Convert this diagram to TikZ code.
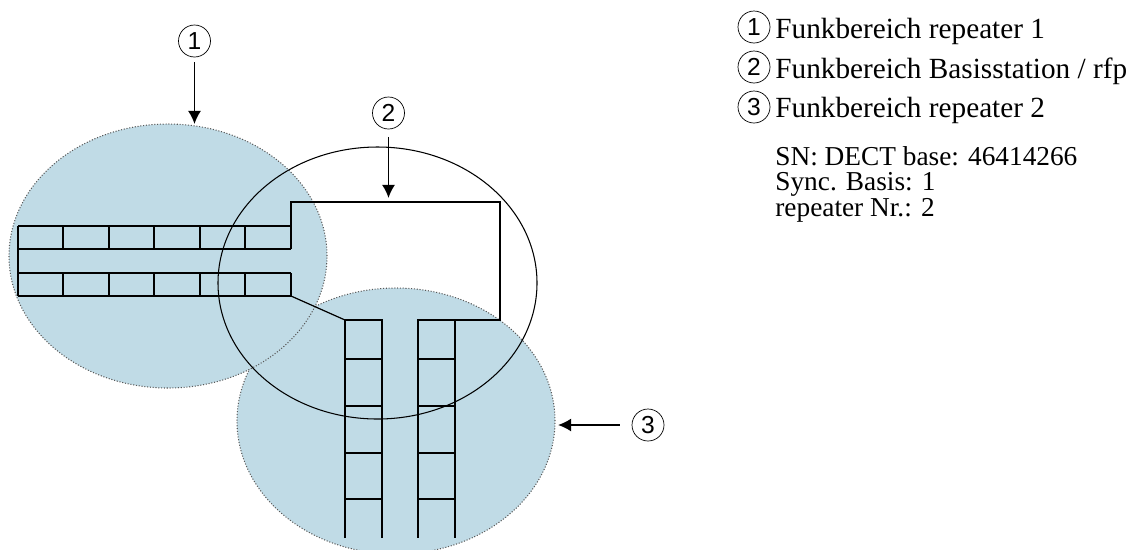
\documentclass[tikz,border=0pt]{standalone}
\usepackage{fontspec}
\setmainfont{Liberation Serif}
\setsansfont{Liberation Sans}
\usetikzlibrary{arrows.meta}
\definecolor{areablue}{RGB}{192,219,230}
\tikzset{
  numcircle/.style={draw,circle,inner sep=0pt,minimum size=0.64cm,outer sep=3pt,font=\sffamily\fontsize{14}{14}\selectfont},
  legendtext/.style={anchor=base west,inner sep=0pt,font=\fontsize{16.65}{16.65}\selectfont},
  infotext/.style={anchor=base west,inner sep=0pt,font=\fontsize{15.55}{15.55}\selectfont},
  wall/.style={line width=1pt},
  area/.style={fill=areablue,draw=black!65,line width=0.6pt,densely dotted},
  arrowline/.style={-{Latex[length=7.5pt,width=7.5pt]},line width=1pt}
}
\begin{document}
\begin{tikzpicture}[x=0.02cm,y=0.02cm]
\useasboundingbox (0,-549) rectangle (1132,0);
\clip (0,-549) rectangle (1132,0);
\draw [area] (396,-421) ellipse (159 and 133);
\draw [area] (168,-256) ellipse (159 and 132);
\draw [black,line width=0.6pt] (377.5,-283) ellipse (159.5 and 136);
% upper wing
\draw [wall] (291,-249) -- (291,-202) -- (500,-202) -- (500,-320) -- (418,-320) -- (418,-538);
\draw [wall] (18,-226) -- (291,-226);
\draw [wall] (18,-249) -- (291,-249);
\draw [wall] (18,-273) -- (291,-273);
\draw [wall] (18,-296) -- (291,-296);
\draw [wall] (18,-226) -- (18,-296);
\draw [wall] (291,-273) -- (291,-296);
\foreach \x in {63,109,154,200,245} {
  \draw [wall] (\x,-226) -- (\x,-249);
  \draw [wall] (\x,-273) -- (\x,-296);
}
% link and towers
\draw [black,line width=0.7pt] (291,-296) -- (345,-320);
\draw [wall] (345,-538) -- (345,-320) -- (382,-320) -- (382,-538);
\draw [wall] (455,-320) -- (455,-538);
\foreach \y in {359,406,453,499} {
  \draw [wall] (345,-\y) -- (382,-\y);
  \draw [wall] (418,-\y) -- (455,-\y);
}
% callouts
\node [numcircle] (c1) at (194.5,-41) {1};
\node [numcircle] (c2) at (388.5,-113) {2};
\node [numcircle] (c3) at (648,-425) {3};
\coordinate (t1) at (194.5,-124);
\coordinate (t2) at (388.5,-198);
\coordinate (t3) at (558,-425);
\draw [arrowline] (c1) -- (t1);
\draw [arrowline,shorten <=1.5pt] (c2) -- (t2);
\draw [arrowline,shorten <=4pt] (c3) -- (t3);
% legend
\node [numcircle] (k1) at (754,-27) {1};
\node [numcircle] (k2) at (754,-67) {2};
\node [numcircle] (k3) at (754,-107) {3};
\node [legendtext] (l1) at (775,-38) {Funkbereich repeater 1};
\node [legendtext] (l2) at (775,-78) {Funkbereich Basisstation / rfp};
\node [legendtext] (l3) at (775,-117.5) {Funkbereich repeater 2};
\node [infotext] (i1) at (775,-165) {SN: DECT base: 46414266};
\node [infotext] (i2) at (775,-190.5) {Sync. Basis: 1};
\node [infotext] (i3) at (775,-216) {repeater Nr.: 2};
\end{tikzpicture}
\end{document}
